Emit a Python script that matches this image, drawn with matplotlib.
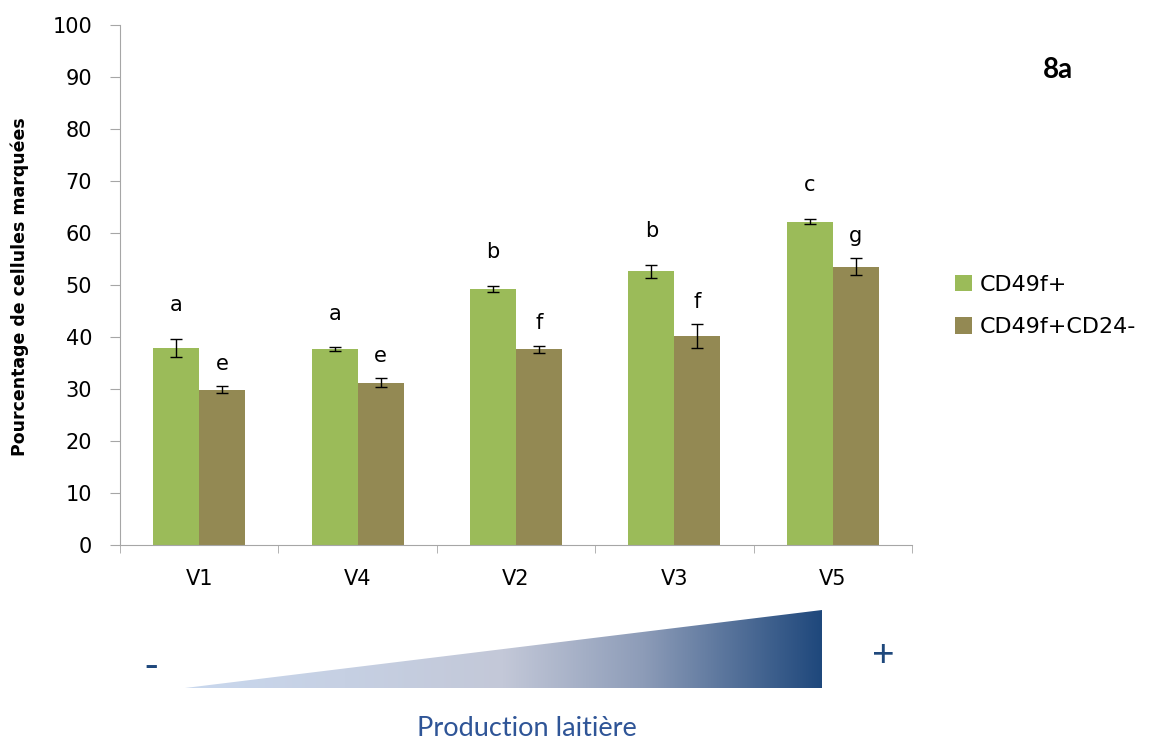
import numpy as np
import matplotlib
matplotlib.use('Agg')
import matplotlib.pyplot as plt
from matplotlib.colors import LinearSegmentedColormap
from matplotlib.patches import Polygon

# Données
varietes = ['V1', 'V4', 'V2', 'V3', 'V5']
cd49f = [37.9, 37.7, 49.3, 52.6, 62.2]
cd49f_err = [1.7, 0.3, 0.6, 1.2, 0.5]
cd49f_cd24 = [29.9, 31.2, 37.6, 40.2, 53.5]
cd49f_cd24_err = [0.7, 0.9, 0.7, 2.3, 1.6]
lettres_cd49f = ['a', 'a', 'b', 'b', 'c']
lettres_cd24 = ['e', 'e', 'f', 'f', 'g']
series = ['CD49f+', 'CD49f+CD24-']

W, H = 1149, 742
fig = plt.figure(figsize=(W / 100, H / 100), dpi=100)
ax = fig.add_axes([120 / W, 1 - 545 / H, (912 - 120) / W, (545 - 25) / H])

x = np.arange(len(varietes))
w = 0.29
vert = '#9bbb59'
brun = '#938953'
ax.bar(x - w / 2, cd49f, w, color=vert, label=series[0], zorder=2)
ax.bar(x + w / 2, cd49f_cd24, w, color=brun, label=series[1], zorder=2)
ax.errorbar(x - w / 2, cd49f, yerr=cd49f_err, fmt='none', ecolor='black',
            elinewidth=1, capsize=4.5, capthick=1, zorder=3)
ax.errorbar(x + w / 2, cd49f_cd24, yerr=cd49f_cd24_err, fmt='none', ecolor='black',
            elinewidth=1, capsize=4.5, capthick=1, zorder=3)

# lettres de significativité
for i in range(len(varietes)):
    ax.text(x[i] - w / 2, cd49f[i] + cd49f_err[i] + 6.5, lettres_cd49f[i],
            ha='center', va='center', fontsize=15)
    ax.text(x[i] + w / 2, cd49f_cd24[i] + cd49f_cd24_err[i] + 4.3, lettres_cd24[i],
            ha='center', va='center', fontsize=15)

ax.set_xlim(-0.5, len(varietes) - 0.5)
ax.set_ylim(0, 100)
ax.set_yticks(range(0, 101, 10))
ax.set_xticks(x)
ax.set_xticklabels(varietes)
ax.set_xticks(np.arange(-0.5, len(varietes), 1), minor=True)
for s in ['top', 'right']:
    ax.spines[s].set_visible(False)
for s in ['left', 'bottom']:
    ax.spines[s].set_color('#a6a6a6')
ax.tick_params(axis='y', length=7, color='#a6a6a6', pad=13, labelsize=15)
ax.tick_params(axis='x', which='major', length=0, pad=17, labelsize=15)
ax.tick_params(axis='x', which='minor', length=6, color='#a6a6a6')

fig.text(20 / W, 1 - 287 / H, 'Pourcentage de cellules marquées', rotation=90,
         ha='center', va='center', fontsize=12.5, fontweight='bold',
         family=['Liberation Sans Narrow', 'DejaVu Sans Condensed', 'DejaVu Sans'])
fig.text(1058 / W, 1 - 70 / H, '8a', ha='center', va='center', fontsize=20,
         fontweight='bold', family=['Lato', 'DejaVu Sans'])

fig.legend(loc='upper left', bbox_to_anchor=(955 / W, 1 - 275 / H), frameon=False,
           fontsize=16, handlelength=0.75, handleheight=0.75, labelspacing=1.0,
           handletextpad=0.35, borderpad=0, borderaxespad=0)

# triangle en dégradé (production laitière)
ov = fig.add_axes([0, 0, 1, 1], zorder=-1)
ov.set_xlim(0, W)
ov.set_ylim(H, 0)
ov.axis('off')
cmap = LinearSegmentedColormap.from_list(
    'bleu', [(0, '#c9d8ee'), (0.5, '#c3c8d8'), (0.72, '#8d9cb8'), (1, '#1f487c')])
grad = np.linspace(0, 1, 256).reshape(1, -1)
im = ov.imshow(grad, cmap=cmap, extent=(185, 822, 688, 610), aspect='auto')
tri = Polygon([(185, 688), (822, 688), (822, 610)], closed=True,
              transform=ov.transData, facecolor='none', edgecolor='none')
ov.add_patch(tri)
im.set_clip_path(tri)
ov.text(151, 667, '-', ha='center', va='center', fontsize=30, color='#1f487c',
        family=['Lato', 'DejaVu Sans'])
ov.text(883, 655, '+', ha='center', va='center', fontsize=28, color='#1f487c',
        family=['Lato', 'DejaVu Sans'])
ov.text(527, 729, 'Production laitière', ha='center', va='center', fontsize=19.5,
        color='#2f5597', family=['Lato', 'DejaVu Sans'])

fig.savefig('out.png', dpi=100)
